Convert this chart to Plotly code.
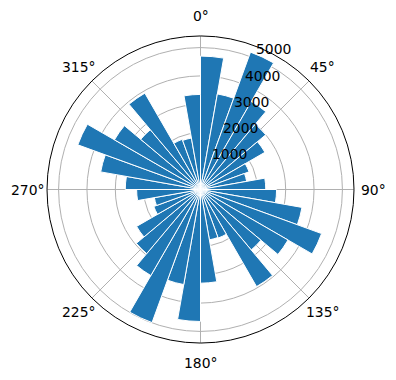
import math
import plotly.graph_objects as go

# bin start angles (degrees, clockwise from north), 10-degree bins
bin_starts = list(range(0, 360, 10))
bin_width = 10
counts = [4700, 3420, 5150, 3580, 3000, 2620, 1820, 1650, 2300,
          2680, 3630, 4540, 3560, 2780, 3950, 1820, 1800, 3300,
          4650, 3400, 4990, 3500, 2950, 2600, 1750, 1650, 2250,
          2650, 3570, 4600, 3500, 2750, 3920, 1880, 1840, 3350]
angle_ticks = [0, 45, 90, 135, 180, 225, 270, 315]
angle_labels = [f"{a}°" for a in angle_ticks]
r_ticks = [1000, 2000, 3000, 4000, 5000]
r_label_angle = 22.5
r_max = 1.05 * max(counts)

theta_centers = [s + bin_width / 2 for s in bin_starts]

W, H = 396, 380
ml, mr, mt, mb = 47, 42, 36, 37
pw, ph = W - ml - mr, H - mt - mb
rad_px = pw / 2.0


def to_paper(r_frac, theta_deg):
    """polar (fraction of outer radius, compass degrees) -> paper coords"""
    t = math.radians(theta_deg)
    x = 0.5 + r_frac * math.sin(t) * rad_px / pw
    y = 0.5 + r_frac * math.cos(t) * rad_px / ph
    return x, y


fig = go.Figure(go.Barpolar(
    r=counts,
    theta=theta_centers,
    width=[bin_width] * len(counts),
    marker=dict(color="#1f77b4", line=dict(color="white", width=1)),
))

annotations = []
for a, lab in zip(angle_ticks, angle_labels):
    x, y = to_paper(173.0 / rad_px, a)
    annotations.append(dict(x=x, y=y, xref="paper", yref="paper", text=lab,
                            showarrow=False, xanchor="center", yanchor="middle",
                            font=dict(size=13.9)))
for rv in r_ticks:
    x, y = to_paper(rv / r_max, r_label_angle)
    annotations.append(dict(x=x, y=y, xref="paper", yref="paper", text=str(rv),
                            showarrow=False, xanchor="left", yanchor="bottom",
                            borderpad=0, font=dict(size=13.9)))

fig.update_layout(
    width=W, height=H,
    margin=dict(l=ml, r=mr, t=mt, b=mb),
    paper_bgcolor="white",
    showlegend=False,
    font=dict(family="DejaVu Sans", size=13.9, color="black"),
    annotations=annotations,
    polar=dict(
        bgcolor="white",
        bargap=0,
        angularaxis=dict(
            rotation=90, direction="clockwise",
            tickmode="array", tickvals=angle_ticks, ticktext=angle_labels,
            showticklabels=False,
            showline=True, linecolor="black", linewidth=1,
            gridcolor="#b0b0b0", gridwidth=0.8, ticks="",
            layer="above traces",
        ),
        radialaxis=dict(
            range=[0, r_max], tickmode="array", tickvals=r_ticks,
            showticklabels=False, showline=False, ticks="",
            gridcolor="#b0b0b0", gridwidth=0.8,
            layer="above traces",
        ),
    ),
)

fig.write_html("out.html")
